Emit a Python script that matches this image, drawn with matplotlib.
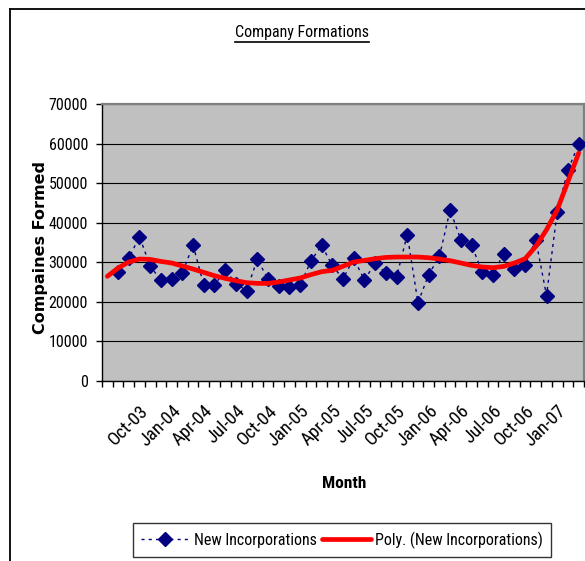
import numpy as np
import matplotlib
matplotlib.use('Agg')
import matplotlib.pyplot as plt
from matplotlib.lines import Line2D
from matplotlib.ticker import FixedLocator, NullFormatter

# ---------------- data ----------------
categories = ['Jul-03', 'Aug-03', 'Sep-03', 'Oct-03', 'Nov-03', 'Dec-03',
              'Jan-04', 'Feb-04', 'Mar-04', 'Apr-04', 'May-04', 'Jun-04',
              'Jul-04', 'Aug-04', 'Sep-04', 'Oct-04', 'Nov-04', 'Dec-04',
              'Jan-05', 'Feb-05', 'Mar-05', 'Apr-05', 'May-05', 'Jun-05',
              'Jul-05', 'Aug-05', 'Sep-05', 'Oct-05', 'Nov-05', 'Dec-05',
              'Jan-06', 'Feb-06', 'Mar-06', 'Apr-06', 'May-06', 'Jun-06',
              'Jul-06', 'Aug-06', 'Sep-06', 'Oct-06', 'Nov-06', 'Dec-06',
              'Jan-07', 'Feb-07', 'Mar-07']
new_incorporations = [np.nan,
                      27500, 31000, 36500, 29000, 25500,
                      25800, 27200, 34400, 24200, 24200, 28100,
                      24600, 22800, 30800, 25700, 24000, 23800,
                      24200, 30300, 34300, 29200, 25800, 31000,
                      25500, 29800, 27300, 26300, 37000, 19800,
                      26900, 31500, 43200, 35700, 34400, 27500,
                      26900, 32200, 28400, 29400, 35700, 21600,
                      42800, 53300, 59900]
# polynomial trendline (one value per month)
poly_trend = [26450, 28550, 30070, 30830, 30730, 30220,
              29820, 29060, 28300, 27450, 26610, 25930,
              25350, 24850, 24670, 24670, 25020, 25530,
              26030, 26870, 27620, 27960, 29000, 30070,
              30480, 30900, 31230, 31330, 31330, 31330,
              31150, 30820, 30400, 29820, 29220, 28810,
              28630, 28960, 29820, 30900, 34010, 38220,
              43260, 50400, 57570]
tick_labels = ['Oct-03', 'Jan-04', 'Apr-04', 'Jul-04', 'Oct-04', 'Jan-05',
               'Apr-05', 'Jul-05', 'Oct-05', 'Jan-06', 'Apr-06', 'Jul-06',
               'Oct-06', 'Jan-07']
y_ticks = [0, 10000, 20000, 30000, 40000, 50000, 60000, 70000]

# ---------------- style ----------------
plt.rcParams['font.family'] = ['Roboto Condensed', 'Liberation Sans', 'DejaVu Sans']
FS = 11.5
XFS = 13.5

W, H = 585, 561
fig = plt.figure(figsize=(W / 100, H / 100), dpi=100)
fig.patch.set_facecolor('white')

ax = fig.add_axes([102 / W, 1 - 381 / H, 482 / W, 277 / H])
ax.set_facecolor('#C0C0C0')

x = np.arange(len(categories))
y = np.array(new_incorporations, dtype=float)

ax.plot(x, y, linestyle=(0, (2.2, 3)), color='#000080', linewidth=1.0,
        marker='D', markersize=6.8, markerfacecolor='#000080',
        markeredgecolor='#000080', label='New Incorporations', zorder=3)
ax.plot(x, poly_trend, color='#FF0000', linewidth=3.4,
        solid_capstyle='round', solid_joinstyle='round',
        label='Poly. (New Incorporations)', zorder=4)

ax.set_xlim(-0.5, len(categories) - 0.5)
ax.set_ylim(0, 70000)

ax.set_yticks(y_ticks)
ax.set_yticklabels([str(v) for v in y_ticks], fontsize=FS)
ax.tick_params(axis='y', direction='out', length=4, width=1, color='black', pad=6)
ax.yaxis.grid(True, color='black', linewidth=0.8)
ax.set_axisbelow(True)

label_pos = [categories.index(t) for t in tick_labels]
ax.set_xticks(label_pos)
ax.set_xticklabels(tick_labels, fontsize=XFS, rotation=45, ha='right',
                   va='top', rotation_mode='anchor')
ax.tick_params(axis='x', which='major', length=0, pad=15)
ax.xaxis.set_minor_locator(FixedLocator(np.arange(-0.5, len(categories), 1.0)))
ax.xaxis.set_minor_formatter(NullFormatter())
ax.tick_params(axis='x', which='minor', direction='out', length=4, width=1,
               color='black')

for s in ['top', 'right']:
    ax.spines[s].set_color('#808080')
    ax.spines[s].set_linewidth(1.6)
for s in ['left', 'bottom']:
    ax.spines[s].set_color('black')
    ax.spines[s].set_linewidth(1.0)

fig.text(40 / W, 1 - 247 / H, 'Compaines Formed', rotation=90, ha='center',
         va='center', fontsize=11.5, fontweight='bold', family='DejaVu Sans')
fig.text(344 / W, 1 - 484 / H, 'Month', ha='center', va='center',
         fontsize=12.5, fontweight='bold')

title = fig.text(302 / W, 1 - 33 / H, 'Company Formations', ha='center',
                 va='center', fontsize=FS)

leg = fig.legend(loc='center', bbox_to_anchor=(342 / W, 1 - 540 / H), ncol=2,
                 fontsize=FS, frameon=True, fancybox=False, handlelength=3.1,
                 handletextpad=0.25, columnspacing=0.3, borderpad=0.5)
leg.get_frame().set_edgecolor('black')
leg.get_frame().set_linewidth(1.0)

fig.add_artist(Line2D([10 / W, 10 / W], [0, 1 - 9 / H], transform=fig.transFigure,
                      color='black', linewidth=1.3))
fig.add_artist(Line2D([10 / W, 1], [1 - 9 / H, 1 - 9 / H], transform=fig.transFigure,
                      color='black', linewidth=1.3))

fig.canvas.draw()
bb = title.get_window_extent(fig.canvas.get_renderer())
uy = (bb.y0 - 1) / H
fig.add_artist(Line2D([bb.x0 / W, bb.x1 / W], [uy, uy], transform=fig.transFigure,
                      color='black', linewidth=1.2))

fig.savefig('out.png', dpi=100, facecolor='white')
